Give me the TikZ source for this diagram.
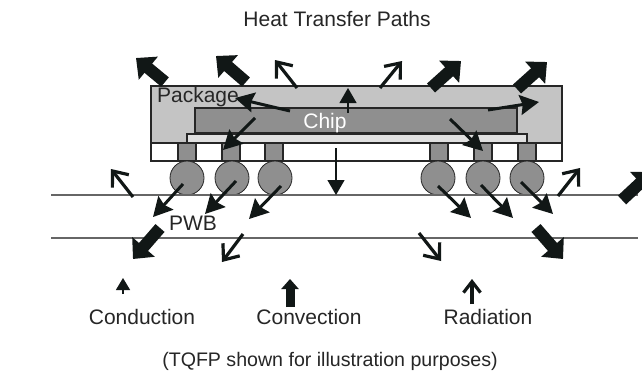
\documentclass[tikz,border=0pt]{standalone}
\usepackage{fontspec}
\setmainfont{Liberation Sans}
\usetikzlibrary{arrows.meta}
\definecolor{inkdark}{HTML}{111716}
\tikzset{
	label/.style={font=\fontsize{21}{24}\selectfont,text=black!85,anchor=base,inner sep=0pt},
	body/.style={draw=black!85,line width=1.1pt},
	board/.style={draw=black!60,line width=1.2pt},
	conduction/.style={draw=inkdark,line width=3pt,-{Stealth[length=19pt,width=20pt,inset=2.5pt]}},
	conductionthin/.style={draw=inkdark,line width=1.2pt,-{Triangle[length=15pt,width=17pt]}},
	convection/.style={draw=inkdark,line width=12pt,-{Triangle[length=16pt,width=29pt]}},
	radiation/.style={draw=inkdark,line width=3.2pt,-{Straight Barb[length=13pt,width=21pt]}},
}
\begin{document}
\begin{tikzpicture}[x=1pt,y=-1pt]
		\clip (0,0) rectangle (642,372);
		\fill[white] (0,0) rectangle (642,372);
		
		\draw[body,fill=black!23] (151,86) rectangle (562,143);
		\draw[body,fill=black!44] (195,108) rectangle (517,133);
		\draw[body,fill=black!12] (187,134) rectangle (527,143);
		\draw[body,fill=white] (151,143) rectangle (562,161);
		
		\foreach \x in {187,231,274,439,483,527}
			\draw[body,fill=black!44] (\x-9,143) rectangle (\x+9,161);
		\foreach \x in {187,232,275,438,483,527}
			\draw[body,line width=.8pt,fill=black!44] (\x,178) circle (17);
		
		\draw[board] (51,195) -- (638,195);
		\draw[board] (51,238) -- (638,238);
		
		\foreach \a/\b/\c/\d in {165/82/136/58,246/82/216/56,431/88/461/61,517/89/547/62,622/200/652/172,160/228/133/259,536/228/563/259}
			\draw[convection] (\a,\b) -- (\c,\d);
		\draw[convection,line width=9pt,-{Triangle[length=10pt,width=17pt]}] (290,307) -- (290,279);
		\foreach \a/\b/\c/\d in {297/88/275/60,380/88/402/61,133/197/111/169,558/196/580/168,243/234/222/262,419/233/441/261}
			\draw[radiation] (\a,\b) -- (\c,\d);
		\draw[radiation,-{Straight Barb[length=11pt,width=17pt]}] (472,304) -- (472,279);
		\foreach \a/\b/\c/\d in {290/111/235/98,255/118/223/150,488/110/539/102,450/119/483/151,183/184/153/217,236/181/205/214,281/186/249/219,438/186/471/218,481/185/513/218,521/182/553/214}
			\draw[conduction] (\a,\b) -- (\c,\d);
		\draw[conductionthin] (348,113) -- (348,88);
		\draw[conductionthin] (336,148) -- (336,195);
		\draw[conductionthin,-{Triangle[length=12pt,width=14pt]}] (123,294) -- (123,278);
		
		\node[label] (title) at (337,26) {Heat Transfer Paths};
		\node[label] (package) at (198,102) {Package};
		\node[label,text=white] (chip) at (325,128) {Chip};
		\node[label] (pwb) at (193,230) {PWB};
		\node[label] (conductionlabel) at (142,324) {Conduction};
		\node[label] (convectionlabel) at (309,324) {Convection};
		\node[label] (radiationlabel) at (488,324) {Radiation};
		\node[label,font=\fontsize{19.6}{24}\selectfont] (note) at (330,366) {(TQFP shown for illustration purposes)};
		\end{tikzpicture}
\end{document}
